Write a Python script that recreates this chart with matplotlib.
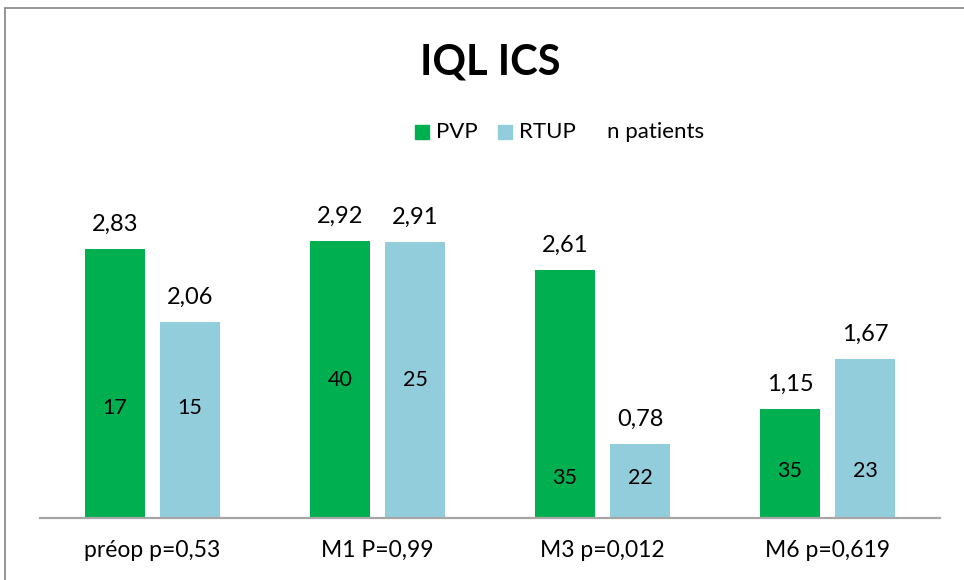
import numpy as np
import matplotlib
matplotlib.use('Agg')
import matplotlib.pyplot as plt
from matplotlib.patches import Rectangle

plt.rcParams['font.family'] = ['Lato', 'DejaVu Sans']

categories = ['préop p=0,53', 'M1 P=0,99', 'M3 p=0,012', 'M6 p=0,619']
pvp = [2.83, 2.92, 2.61, 1.15]
rtup = [2.06, 2.91, 0.78, 1.67]
n_pvp = [17, 40, 35, 35]
n_rtup = [15, 25, 22, 23]
# height (data units) where the n labels sit
n_ypos = [1.16, 1.45, 0.42, 0.49]

green = '#00B050'
blue = '#92CDDC'

W, H = 964, 580
fig = plt.figure(figsize=(W / 100, H / 100), dpi=100)

# chart frame (left and top edges visible)
fig.patches.append(Rectangle((5 / W, -0.1), 1.2, 1.1 - 8 / H, transform=fig.transFigure,
                             fill=False, edgecolor='#8c8c8c', linewidth=1.3, zorder=0))

ax = fig.add_axes((40 / W, (H - 518) / H, 900 / W, 318 / H))
x = np.arange(len(categories))
bw = 0.267
off = 0.1667
b1 = ax.bar(x - off, pvp, bw, color=green, zorder=2)
b2 = ax.bar(x + off, rtup, bw, color=blue, zorder=2)

def fmt(v):
    return f'{v:.2f}'.replace('.', ',')

for bars, vals in ((b1, pvp), (b2, rtup)):
    for r, v in zip(bars, vals):
        ax.annotate(fmt(v), (r.get_x() + r.get_width() / 2, v), xytext=(0, 13),
                    textcoords='offset points', ha='center', va='baseline', fontsize=17)

for i in range(len(categories)):
    ax.text(x[i] - off, n_ypos[i], str(n_pvp[i]), ha='center', va='center', fontsize=15.5)
    ax.text(x[i] + off, n_ypos[i], str(n_rtup[i]), ha='center', va='center', fontsize=15.5)

ax.set_xlim(-0.5, len(categories) - 0.5)
ax.set_ylim(0, 318 / 95)
ax.set_xticks(x)
ax.set_xticklabels(categories, fontsize=16.5)
ax.tick_params(axis='x', length=0, pad=16)
ax.set_yticks([])
for s in ('top', 'right', 'left'):
    ax.spines[s].set_visible(False)
ax.spines['bottom'].set_color('#a6a6a6')
ax.spines['bottom'].set_linewidth(1.6)
ax.patch.set_alpha(0)

fig.text(490 / W, 1 - 62 / H, 'IQL ICS', ha='center', va='center', fontsize=30, fontweight='bold')

# legend
ly = 1 - 132 / H
sq = 14
fig.patches.append(Rectangle((415 / W, ly - sq / 2 / H), sq / W, sq / H, transform=fig.transFigure,
                             color=green))
fig.text(436 / W, ly, 'PVP', ha='left', va='center', fontsize=16)
fig.patches.append(Rectangle((498 / W, ly - sq / 2 / H), sq / W, sq / H, transform=fig.transFigure,
                             color=blue))
fig.text(519 / W, ly, 'RTUP', ha='left', va='center', fontsize=16)
fig.text(607 / W, ly, 'n patients', ha='left', va='center', fontsize=16)

plt.savefig('out.png', dpi=100)
plt.close()
